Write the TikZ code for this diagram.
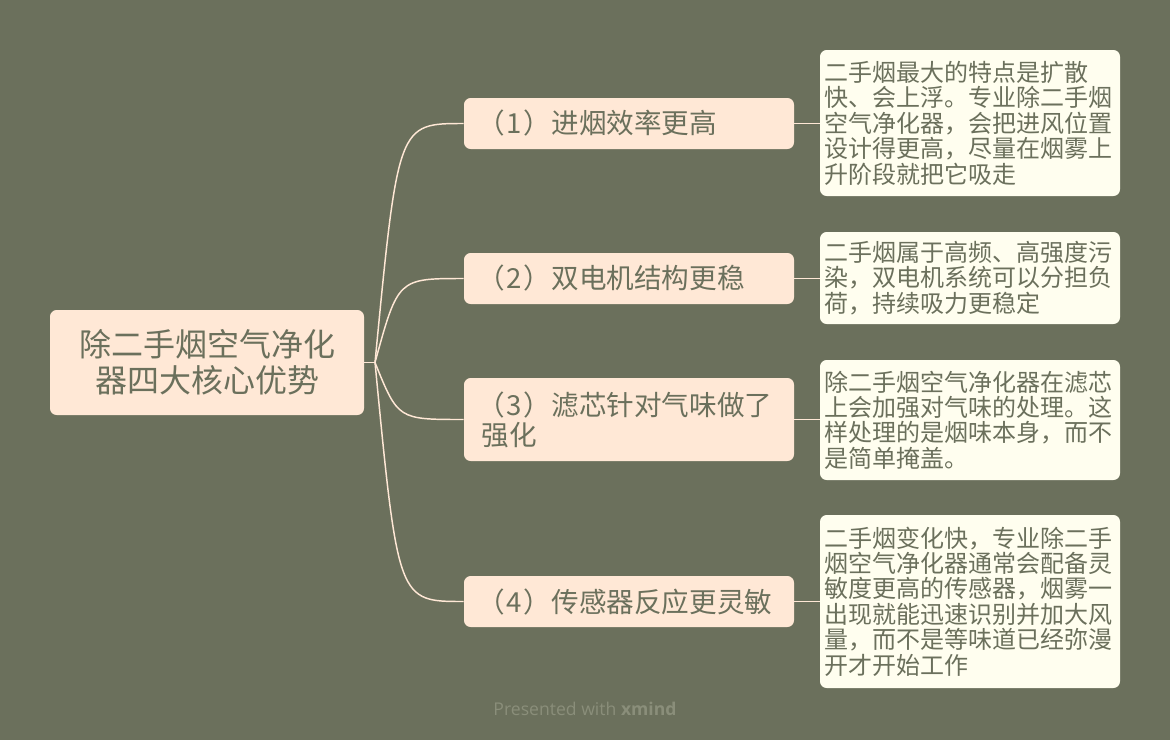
\documentclass[tikz,border=0pt]{standalone}
\usepackage{fontspec}
\setmainfont{Noto Sans CJK SC}
\newfontfamily\wmfont{Open Sans}
\definecolor{bgc}{HTML}{6B705C}
\definecolor{rootc}{HTML}{FFE8D6}
\definecolor{notec}{HTML}{FFFEEF}
\definecolor{linec}{HTML}{FFE8D6}
\definecolor{txtc}{HTML}{6B705C}
\definecolor{wmc}{HTML}{8A8E7A}
\newcommand{\numtag}[1]{\kern-3pt（\kern1.25pt#1\kern1.25pt）}
\tikzset{
  rootbox/.style={fill=rootc, rounded corners=5pt, minimum width=235.5pt, minimum height=78.75pt,
    text width=200pt, align=center, text=txtc, inner sep=0pt,
    font=\fontsize{24pt}{27pt}\selectfont},
  branchbox/.style={fill=rootc, rounded corners=5pt, minimum width=247.5pt,
    text width=221pt, align=left, text=txtc, inner xsep=13.25pt, inner ysep=0pt,
    font=\fontsize{20.7pt}{22.5pt}\selectfont},
  notebox/.style={fill=notec, rounded corners=5pt, minimum width=225pt,
    text width=218pt, align=left, text=txtc, inner xsep=3.5pt, inner ysep=0pt,
    font=\fontsize{18pt}{19.1pt}\selectfont},
  conn/.style={draw=linec, line width=1.1pt}
}
\begin{document}
\begin{tikzpicture}[x=0.75pt,y=-0.75pt]
\fill[bgc] (0,0) rectangle (1170,740);
\useasboundingbox (0,0) rectangle (1170,740);

\node[rootbox] (root) at (207,362.5) {除二手烟空气净化\\器四大核心优势};

\node[branchbox, minimum height=38.25pt] (b1) at (629,123.5) {\numtag{1}进烟效率更高};
\node[branchbox, minimum height=38.25pt] (b2) at (629,278.5) {\numtag{2}双电机结构更稳};
\node[branchbox, minimum height=62.25pt] (b3) at (629,419.5) {\numtag{3}滤芯针对气味做了\\强化};
\node[branchbox, minimum height=38.25pt] (b4) at (629,601.5) {\numtag{4}传感器反应更灵敏};

\node[notebox, minimum height=109.5pt] (n1) at (970,123) {二手烟最大的特点是扩散\\快、会上浮。专业除二手烟\\空气净化器，会把进风位置\\设计得更高，尽量在烟雾上\\升阶段就把它吸走};
\node[notebox, minimum height=69pt] (n2) at (970,278) {二手烟属于高频、高强度污\\染，双电机系统可以分担负\\荷，持续吸力更稳定};
\node[notebox, minimum height=90pt] (n3) at (970,420) {除二手烟空气净化器在滤芯\\上会加强对气味的处理。这\\样处理的是烟味本身，而不\\是简单掩盖。};
\node[notebox, minimum height=129.75pt] (n4) at (970,601.5) {二手烟变化快，专业除二手\\烟空气净化器通常会配备灵\\敏度更高的传感器，烟雾一\\出现就能迅速识别并加大风\\量，而不是等味道已经弥漫\\开才开始工作};

\coordinate (j) at (375,362.5);
\draw[conn] (root.east) -- (j);
\draw[conn] (j) .. controls (398,123.5) .. (b1.west);
\draw[conn] (j) .. controls (398,278.5) .. (b2.west);
\draw[conn] (j) .. controls (398,419.5) .. (b3.west);
\draw[conn] (j) .. controls (398,601.5) .. (b4.west);

\draw[conn] (b1.east) -- (n1.west |- b1.east);
\draw[conn] (b2.east) -- (n2.west |- b2.east);
\draw[conn] (b3.east) -- (n3.west |- b3.east);
\draw[conn] (b4.east) -- (n4.west |- b4.east);

\node[text=wmc, font=\wmfont\fontsize{13.2pt}{15pt}\selectfont] (wm) at (585,709) {Presented with \textbf{xmind}};
\end{tikzpicture}
\end{document}
